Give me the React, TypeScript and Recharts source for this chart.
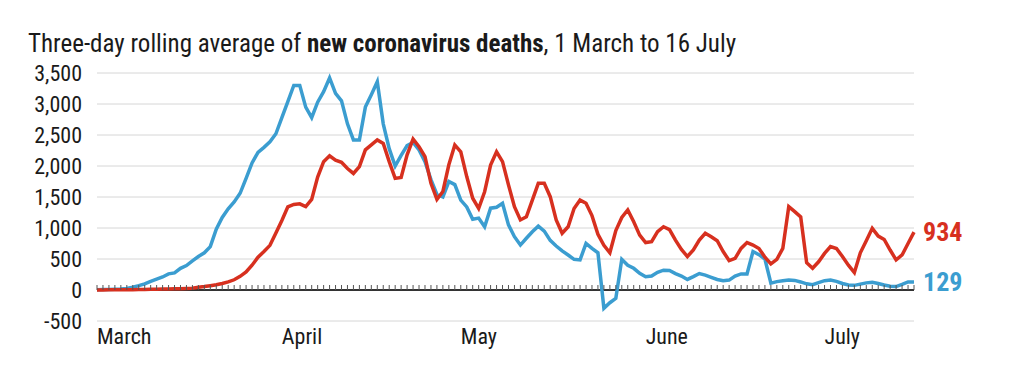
import React from "react";
import { LineChart, Line, XAxis, YAxis, CartesianGrid } from "recharts";

// Three-day rolling average of new coronavirus deaths, 1 March (index 0) to 16 July (index 137)
const monthNames = ["March", "April", "May", "June", "July"];
const monthLengths = [31, 30, 31, 30, 16];
const monthStartDays = [0, 31, 61, 92, 122];
const yTicks = [-500, 0, 500, 1000, 1500, 2000, 2500, 3000, 3500];

const usDeaths = [
  2, 2, 3, 3, 4, 5, 6, 8, 10, 12, 14, 16, 18, 20, 22, 25,
  30, 45, 55, 70, 85, 105, 130, 165, 220, 290, 400, 530, 620, 720, 920, 1120,
  1340, 1380, 1390, 1345, 1460, 1820, 2070, 2165, 2095, 2060, 1960, 1880, 1990, 2260, 2340, 2420,
  2365, 2070, 1800, 1815, 2180, 2435, 2310, 2150, 1720, 1460, 1590, 2020, 2340, 2230, 1830, 1480,
  1315, 1585, 2015, 2230, 2070, 1695, 1345, 1130, 1180, 1450, 1720, 1720, 1505, 1130, 915, 1020,
  1315, 1450, 1400, 1200, 900, 720, 600, 960, 1170, 1290, 1100, 885, 765, 780, 940, 1020,
  975, 805, 655, 540, 645, 805, 915, 860, 795, 620, 475, 510, 670, 765, 725, 670,
  530, 420, 495, 670, 1345, 1265, 1180, 440, 350, 455, 590, 700, 670, 540, 400, 280,
  600, 795, 995, 870, 815, 645, 485, 565, 750, 934,
];

const europeDeaths = [
  5, 7, 10, 12, 15, 25, 45, 70, 100, 140, 175, 210, 260, 275, 350, 395,
  470, 540, 600, 700, 980, 1170, 1310, 1420, 1560, 1800, 2050, 2220, 2300, 2390, 2520, 2780,
  3040, 3300, 3300, 2950, 2780, 3030, 3200, 3420, 3170, 3050, 2680, 2420, 2420, 2950, 3150, 3360,
  2680, 2280, 2000, 2170, 2330, 2380, 2260, 2070, 1780, 1540, 1500, 1750, 1700, 1450, 1340, 1140,
  1160, 1020, 1320, 1335, 1400, 1050, 860, 725, 835, 940, 1030, 950, 800, 710, 630, 565,
  495, 485, 750, 670, 600, -295, -205, -135, 495, 400, 350, 270, 215, 225, 285, 320,
  315, 265, 225, 170, 215, 265, 240, 205, 170, 150, 160, 225, 260, 260, 620, 570,
  500, 110, 135, 150, 160, 155, 130, 100, 85, 120, 150, 160, 140, 105, 80, 75,
  95, 115, 125, 105, 80, 60, 55, 90, 130, 129,
];

const dateLabels: string[] = [];
monthNames.forEach((m, mi) => {
  for (let d = 1; d <= monthLengths[mi]; d++) dateLabels.push(`${d} ${m}`);
});

const data = dateLabels.map((date, i) => ({
  day: i,
  date,
  us: usDeaths[i],
  europe: europeDeaths[i],
}));

const RED = "#d7301f";
const BLUE = "#3b9dd0";
const FONT = "'Roboto Condensed', 'Liberation Sans Narrow', 'DejaVu Sans Condensed', Roboto, sans-serif";
const LAST = data.length - 1;

const MonthTick = (props: any) => {
  const { x, y, payload } = props;
  const idx = monthStartDays.indexOf(payload.value);
  return (
    <text x={x} y={y} dy={23} textAnchor="start" fill="#1a1a1a" fontSize={22} fontFamily={FONT}>
      {monthNames[idx]}
    </text>
  );
};

const endLabel = (color: string) => (props: any) => {
  const { x, y, index, value } = props;
  if (index !== LAST) return <g />;
  return (
    <text x={x + 9} y={y} dy="0.36em" fill={color} fontSize={26} fontWeight={700} fontFamily={FONT} textAnchor="start">
      {value}
    </text>
  );
};

const DayTick = (props: any) => {
  const { cx, cy } = props;
  if (cx == null || cy == null) return <g />;
  return <line x1={cx} x2={cx} y1={cy} y2={cy - 5} stroke="#555" strokeWidth={1} />;
};

export default function App() {
  return (
    <div style={{ position: "relative", width: 1016, height: 357, background: "#fff" }}>
      <div
        style={{
          position: "absolute",
          left: 20,
          top: 24,
          fontSize: 25,
          lineHeight: "24px",
          fontFamily: FONT,
          color: "#1a1a1a",
          whiteSpace: "nowrap",
        }}
      >
        Three-day rolling average of <b>new coronavirus deaths</b>, 1 March to 16 July
      </div>
      <LineChart width={1016} height={357} data={data} margin={{ top: 65, right: 110, bottom: 14, left: 9 }}>
        <CartesianGrid vertical={false} stroke="#d6d6d6" strokeWidth={1} />
        <XAxis
          type="number"
          dataKey="day"
          domain={[0, LAST]}
          ticks={monthStartDays}
          axisLine={false}
          tickLine={false}
          tickSize={0}
          tickMargin={0}
          height={30}
          tick={<MonthTick />}
          interval={0}
        />
        <YAxis
          type="number"
          domain={[-500, 3500]}
          ticks={yTicks}
          axisLine={false}
          tickLine={false}
          tickSize={0}
          tickMargin={15}
          width={80}
          interval={0}
          tickFormatter={(v: number) => v.toLocaleString("en-US")}
          tick={{ fontSize: 22, fill: "#1a1a1a", fontFamily: FONT }}
        />
        <Line
          dataKey={() => 0}
          stroke="#333"
          strokeWidth={2}
          dot={<DayTick />}
          activeDot={false}
          isAnimationActive={false}
        />
        <Line
          dataKey="europe"
          stroke={BLUE}
          strokeWidth={3.5}
          dot={false}
          activeDot={false}
          isAnimationActive={false}
          label={endLabel(BLUE)}
        />
        <Line
          dataKey="us"
          stroke={RED}
          strokeWidth={3.5}
          dot={false}
          activeDot={false}
          isAnimationActive={false}
          label={endLabel(RED)}
        />
      </LineChart>
    </div>
  );
}
